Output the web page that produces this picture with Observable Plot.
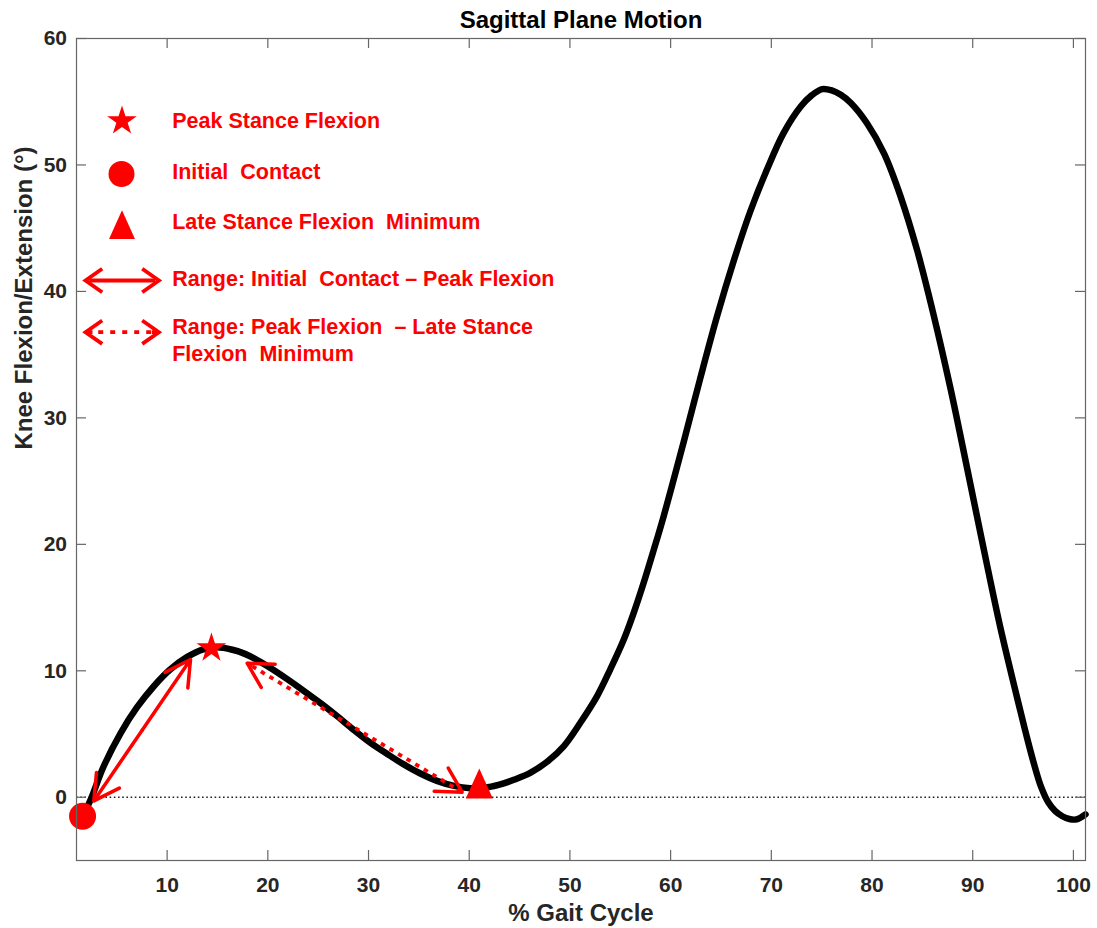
<!DOCTYPE html>
<html>
<head>
<meta charset="utf-8">
<script src="https://cdn.jsdelivr.net/npm/d3@7"></script>
<script src="https://cdn.jsdelivr.net/npm/@observablehq/plot@0.6"></script>
<style>
  html, body { margin: 0; padding: 0; background: #fff; }
</style>
</head>
<body>
<div id="chart"></div>
<script>
// ---------------- data ----------------
const titleText = "Sagittal Plane Motion";
const xLabel = "% Gait Cycle";
const yLabel = "Knee Flexion/Extension (°)";
const xTicks = [10, 20, 30, 40, 50, 60, 70, 80, 90, 100];
const yTicks = [0, 10, 20, 30, 40, 50, 60];
const xDomain = [1, 101.2];
const yDomain = [-5, 60];

// knee angle curve (% gait cycle, degrees)
const gaitPct = [1.6, 2.4, 3.7, 5.4, 7.0, 8.7, 10.3, 12.0, 13.6, 15.2, 17.0, 18.6, 20.3, 22.0, 23.6, 25.3, 26.9, 28.5, 30.2, 31.9, 33.5, 35.1, 36.8, 38.5, 40.1, 41.5, 43.0, 44.5, 46.1, 47.8, 49.4, 51.0, 52.7, 54.0, 55.35, 56.3, 57.3, 58.3, 59.3, 61.3, 62.9, 64.6, 66.3, 67.9, 69.6, 71.2, 72.9, 74.0, 75.05, 76.0, 76.9, 77.9, 79.5, 81.2, 82.8, 84.5, 86.1, 87.8, 89.45, 91.1, 92.75, 94.4, 95.3, 96.1, 96.8, 97.5, 98.2, 98.9, 99.6, 100.3, 101.2];
const kneeAngle = [-1.5, -0.2, 2.45, 5.1, 7.1, 8.8, 10.1, 11.1, 11.7, 11.85, 11.55, 11.0, 10.2, 9.3, 8.4, 7.4, 6.4, 5.35, 4.3, 3.4, 2.6, 1.9, 1.3, 0.9, 0.72, 0.75, 1.0, 1.4, 1.95, 2.85, 4.05, 5.85, 8.0, 10.1, 12.47, 14.5, 16.9, 19.5, 22.2, 28.1, 33.0, 38.0, 42.5, 46.3, 49.7, 52.5, 54.6, 55.5, 56.0, 55.9, 55.55, 54.9, 53.3, 50.9, 47.6, 43.2, 38.2, 32.3, 26.0, 19.6, 13.4, 7.9, 5.0, 2.6, 0.8, -0.4, -1.1, -1.5, -1.72, -1.75, -1.35];

// gait events
const eventNames = ["Initial Contact", "Peak Stance Flexion", "Late Stance Flexion Minimum"];
const eventPct = [1.6, 14.4, 41.0];
const eventAngle = [-1.5, 11.8, 0.7];

// range arrows (double headed)
const rangeNames = ["Range: Initial\u00a0 Contact – Peak Flexion", "Range: Peak Flexion\u00a0 – Late Stance\nFlexion\u00a0 Minimum"];
const rangeX1 = [2.72, 17.95];
const rangeY1 = [-0.29, 10.6];
const rangeX2 = [12.32, 39.3];
const rangeY2 = [10.89, 0.4];

// legend labels
const legendLabels = ["Peak Stance Flexion", "Initial\u00a0 Contact", "Late Stance Flexion\u00a0 Minimum", rangeNames[0], rangeNames[1]];

// ---------------- build ----------------
const W = 1097, H = 928;
const mT = 38, mL = 76, mR = 12, mB = 68;
const frameW = W - mL - mR, frameH = H - mT - mB;
const RED = "#ff0000";
const AX = "#262626";
const FRAME = "#666";
const FONT = "'Liberation Sans', Arial, Helvetica, sans-serif";

const curve = gaitPct.map((x, i) => ({x, y: kneeAngle[i]}));
const events = eventNames.map((name, i) => ({name, x: eventPct[i], y: eventAngle[i]}));
const ranges = rangeNames.map((name, i) => ({kind: i, x1: rangeX1[i], y1: rangeY1[i], x2: rangeX2[i], y2: rangeY2[i]}));
// split each double-headed arrow into two arrows pointing out from its midpoint
const arrowHalves = [];
ranges.forEach(r => {
  const mx = (r.x1 + r.x2) / 2, my = (r.y1 + r.y2) / 2;
  arrowHalves.push({kind: r.kind, x1: mx, y1: my, x2: r.x1, y2: r.y1});
  arrowHalves.push({kind: r.kind, x1: mx, y1: my, x2: r.x2, y2: r.y2});
});

const tallTriangle = {
  draw(ctx, size) {
    const k = Math.sqrt(size / Math.PI) / 10;
    ctx.moveTo(0, -20 * k);
    ctx.lineTo(13.5 * k, 10 * k);
    ctx.lineTo(-13.5 * k, 10 * k);
    ctx.closePath();
  }
};
const legendShaft = {
  draw(ctx) { ctx.moveTo(-33, 0); ctx.lineTo(33, 0); }
};
const legendHeads = {
  draw(ctx) {
    const L = 36.7, ax = 16.7, ay = 11.7;
    ctx.moveTo(-L + ax, -ay); ctx.lineTo(-L, 0); ctx.lineTo(-L + ax, ay);
    ctx.moveTo(L - ax, -ay); ctx.lineTo(L, 0); ctx.lineTo(L - ax, ay);
  }
};
const legendHeadStubs = {
  draw(ctx) {
    const L = 36.7;
    ctx.moveTo(-L, 0); ctx.lineTo(-L + 7, 0);
    ctx.moveTo(L, 0); ctx.lineTo(L - 7, 0);
  }
};

const one = [0];
const LX = 45.5;   // legend symbol offset from frame left
const TX = 95.7;   // legend text offset from frame left

const marks = [
  // zero reference
  Plot.ruleY([0], {stroke: "#222", strokeWidth: 1.4, strokeDasharray: "1.6,2.6"}),
  // curve
  Plot.line(curve, {x: "x", y: "y", stroke: "#000", strokeWidth: 6.5, curve: "catmull-rom", strokeLinecap: "round"}),
  // range arrows
  Plot.arrow(arrowHalves.filter(d => d.kind === 0), {x1: "x1", y1: "y1", x2: "x2", y2: "y2", stroke: RED, strokeWidth: 3.5, headAngle: 58, headLength: 14}),
  Plot.link(ranges.filter(d => d.kind === 1), {x1: "x1", y1: "y1", x2: "x2", y2: "y2", stroke: RED, strokeWidth: 3.8, strokeDasharray: "4.5,5.5", strokeDashoffset: -6}),
  Plot.arrow(arrowHalves.filter(d => d.kind === 1), {x1: "x1", y1: "y1", x2: "x2", y2: "y2", stroke: RED, strokeWidth: 3.5, headAngle: 58, headLength: 12, insetStart: 121}),
  // event markers
  Plot.dot(events.filter(d => d.name === eventNames[0]), {x: "x", y: "y", r: 13.5, fill: RED, symbol: "circle"}),
  Plot.dot(events.filter(d => d.name === eventNames[1]), {x: "x", y: "y", r: 9.3, fill: RED, symbol: "star"}),
  Plot.dot(events.filter(d => d.name === eventNames[2]), {x: "x", y: "y", r: 10, fill: RED, symbol: tallTriangle}),
  // frame & inward ticks
  Plot.frame({stroke: FRAME, strokeWidth: 1.2}),
  Plot.tickX(xTicks, {x: d => d, stroke: FRAME, strokeWidth: 1.2, insetTop: frameH - 10}),
  Plot.tickX(xTicks, {x: d => d, stroke: FRAME, strokeWidth: 1.2, insetBottom: frameH - 10}),
  Plot.tickY(yTicks, {y: d => d, stroke: FRAME, strokeWidth: 1.2, insetRight: frameW - 10}),
  Plot.tickY(yTicks, {y: d => d, stroke: FRAME, strokeWidth: 1.2, insetLeft: frameW - 10}),
  Plot.axisX({ticks: xTicks, tickSize: 0, tickPadding: 17, label: null, fontSize: 21, fontWeight: "bold", fill: AX}),
  Plot.axisY({ticks: yTicks, tickSize: 0, tickPadding: 9.5, label: null, fontSize: 21, fontWeight: "bold", fill: AX}),
  // title & axis labels
  Plot.text(one, {text: () => titleText, frameAnchor: "top", dy: -17.7, lineAnchor: "middle", fontSize: 24, fontWeight: "bold", fill: "#000"}),
  Plot.text(one, {text: () => xLabel, frameAnchor: "bottom", dy: 53.3, lineAnchor: "middle", fontSize: 24, fontWeight: "bold", fill: AX}),
  Plot.text(one, {text: () => yLabel, frameAnchor: "left", dx: -52, rotate: -90, lineAnchor: "middle", fontSize: 24, fontWeight: "bold", fill: AX}),
  // legend symbols
  Plot.dot(one, {frameAnchor: "top-left", dx: LX, dy: 82.5, r: 9.3, symbol: "star", fill: RED}),
  Plot.dot(one, {frameAnchor: "top-left", dx: LX - 0.5, dy: 135.5, r: 13, symbol: "circle", fill: RED}),
  Plot.dot(one, {frameAnchor: "top-left", dx: LX, dy: 191, r: 9.6, symbol: tallTriangle, fill: RED}),
  Plot.dot(one, {frameAnchor: "top-left", dx: LX + 0.2, dy: 242, symbol: legendShaft, fill: "none", stroke: RED, strokeWidth: 3.8}),
  Plot.dot(one, {frameAnchor: "top-left", dx: LX + 0.2, dy: 242, symbol: legendHeads, fill: "none", stroke: RED, strokeWidth: 3.8}),
  Plot.dot(one, {frameAnchor: "top-left", dx: LX + 0.2, dy: 293.7, symbol: legendShaft, fill: "none", stroke: RED, strokeWidth: 3.8, strokeDasharray: "5,7", strokeDashoffset: -9}),
  Plot.dot(one, {frameAnchor: "top-left", dx: LX + 0.2, dy: 293.7, symbol: legendHeads, fill: "none", stroke: RED, strokeWidth: 3.8}),
  Plot.dot(one, {frameAnchor: "top-left", dx: LX + 0.2, dy: 293.7, symbol: legendHeadStubs, fill: "none", stroke: RED, strokeWidth: 3.8}),
  // legend texts
  ...[82.7, 133.7, 183.7, 240.3].map((dy, i) =>
    Plot.text(one, {text: () => legendLabels[i], frameAnchor: "top-left", dx: TX, dy, textAnchor: "start", lineAnchor: "middle", fontSize: 21.5, fontWeight: "bold", fill: RED})),
  Plot.text(one, {text: () => legendLabels[4], frameAnchor: "top-left", dx: TX, dy: 300.3, textAnchor: "start", lineAnchor: "middle", lineHeight: 1.24, fontSize: 21.5, fontWeight: "bold", fill: RED})
];

const chart = Plot.plot({
  width: W, height: H,
  marginTop: mT, marginLeft: mL, marginRight: mR, marginBottom: mB,
  x: {domain: xDomain},
  y: {domain: yDomain},
  style: {fontFamily: FONT, background: "#fff", color: AX, fontSize: "21px", fontWeight: "bold"},
  marks
});
document.getElementById("chart").appendChild(chart);
</script>
</body>
</html>
